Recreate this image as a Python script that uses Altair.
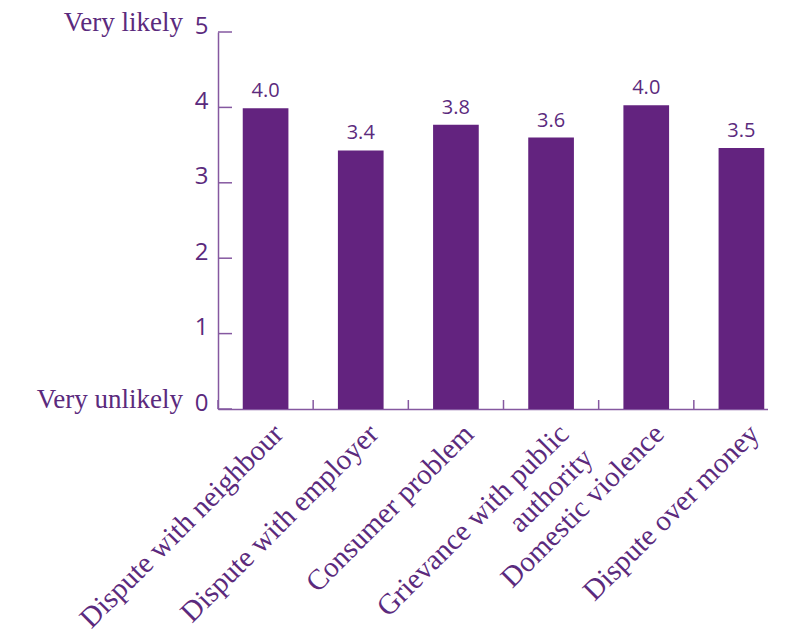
import altair as alt
import pandas as pd

categories = [
    "Dispute with neighbour",
    "Dispute with employer",
    "Consumer problem",
    "Grievance with public authority",
    "Domestic violence",
    "Dispute over money",
]
values = [3.99, 3.43, 3.77, 3.60, 4.03, 3.46]
value_labels = ["4.0", "3.4", "3.8", "3.6", "4.0", "3.5"]
y_ticks = [0, 1, 2, 3, 4, 5]
end_values = [0, 5]
end_labels = ["Very unlikely", "Very likely"]

PURPLE = "#63237f"
TEXT = "#5b2a7d"
AXIS = "#8558a0"

df = pd.DataFrame({"category": categories, "value": values, "label": value_labels})
ticks_df = pd.DataFrame({"value": y_ticks})
ends_df = pd.DataFrame({"value": end_values, "text": end_labels})

x_scale = alt.Scale(domain=categories, range=[0, 571], paddingInner=0, paddingOuter=0)
y_scale = alt.Scale(domain=[0, 5], nice=False)

label_expr = ("datum.label == 'Grievance with public authority' ? "
              "['Grievance with public', 'authority\u00a0\u00a0'] : datum.label")

x_axis = alt.Axis(
    title=None, labelAngle=-45, labelAlign="right", labelBaseline="top",
    labelFont="Liberation Serif", labelFontSize=29, labelColor=TEXT,
    labelPadding=10, labelOffset=3, ticks=False, domainColor=AXIS, domainWidth=1.5,
    labelExpr=label_expr, labelLineHeight=34, labelLimit=0, labelOverlap=False,
)
y_axis = alt.Axis(
    title=None, values=y_ticks, ticks=False, labelFont="Open Sans",
    labelFontSize=24, labelColor=TEXT, labelPadding=10, labelOffset=-6,
    domainColor=AXIS, domainWidth=1.5, grid=False, format="d",
)

X = alt.X("category:N", sort=categories, scale=x_scale, axis=x_axis)
Y = alt.Y("value:Q", scale=y_scale, axis=y_axis)

bars = alt.Chart(df).mark_bar(color=PURPLE, width=alt.RelativeBandSize(0.48)).encode(
    x=X, y=Y,
)

texts = alt.Chart(df).mark_text(
    baseline="bottom", font="Open Sans", fontSize=20, color=TEXT, dy=-7
).encode(x=X, y=Y, text="label:N")

y_tick_rules = alt.Chart(ticks_df).mark_rule(color=AXIS, strokeWidth=1.5).encode(
    y=Y,
    x=alt.value(0),
    x2=alt.value(14),
)

x_tick_rules = alt.Chart(df).mark_rule(color=AXIS, strokeWidth=1.5).encode(
    x=alt.X("category:N", sort=categories, scale=x_scale, bandPosition=0, axis=x_axis),
    y=alt.value(368),
    y2=alt.value(377),
)

end_text = alt.Chart(ends_df).mark_text(
    align="right", baseline="alphabetic", font="Liberation Serif",
    fontSize=27, color=TEXT, dy=-1
).encode(
    y=Y,
    x=alt.value(-35),
    text="text:N",
)

chart = alt.layer(bars, texts, y_tick_rules, x_tick_rules, end_text).properties(
    width=550,
    height=377,
    padding={"left": 210, "top": 24, "right": 0, "bottom": 226},
    autosize="none",
).configure_view(stroke=None)

chart.save("out.html", embed_options={"renderer": "svg", "actions": False})
